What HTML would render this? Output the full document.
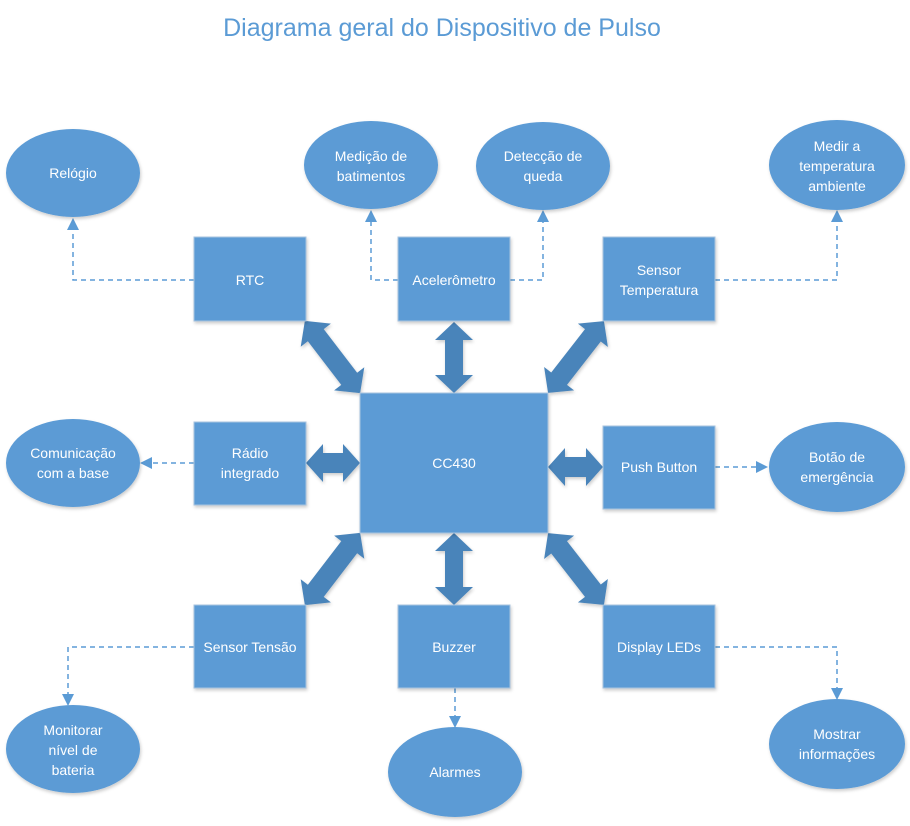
<!DOCTYPE html>
<html><head><meta charset="utf-8"><style>
html,body{margin:0;padding:0;background:#fff;}
svg{display:block;font-family:"Liberation Sans",sans-serif;}
.b{fill:#5B9BD5;stroke:#a9c4e0;stroke-width:1}
.e{fill:#5B9BD5;}
.t{fill:#fff;font-size:14px;text-anchor:middle;}
.a{fill:#4A84BA;}
.d{fill:none;stroke:#5B9BD5;stroke-width:1.5;stroke-dasharray:5,4;}
.h{fill:#5B9BD5;}
</style></head><body>
<svg width="910" height="826" viewBox="0 0 910 826">
<defs>
<filter id="s" x="-10%" y="-10%" width="130%" height="130%"><feDropShadow dx="1" dy="2" stdDeviation="1.5" flood-color="#000" flood-opacity="0.2"/></filter>
</defs>
<text x="442" y="36" fill="#5B9BD5" font-size="25" text-anchor="middle">Diagrama geral do Dispositivo de Pulso</text>

<!-- dashed connectors -->
<path class="d" d="M194,280 H73 V230"/><polygon class="h" points="73,218 67,230 79,230"/>
<path class="d" d="M398,280 H371 V222"/><polygon class="h" points="371,210 365,222 377,222"/>
<path class="d" d="M510,280 H543 V222"/><polygon class="h" points="543,210 537,222 549,222"/>
<path class="d" d="M715,280 H837 V222"/><polygon class="h" points="837,210 831,222 843,222"/>
<path class="d" d="M194,463 H152"/><polygon class="h" points="140,463 152,457 152,469"/>
<path class="d" d="M715,467 H756"/><polygon class="h" points="768,467 756,461 756,473"/>
<path class="d" d="M194,647 H68 V694"/><polygon class="h" points="68,706 62,694 74,694"/>
<path class="d" d="M455,688 V716"/><polygon class="h" points="455,728 449,716 461,716"/>
<path class="d" d="M715,647 H837 V688"/><polygon class="h" points="837,700 831,688 843,688"/>

<!-- double arrows -->
<g filter="url(#s)">
<polygon class="a" transform="translate(332.5,357) rotate(52.6)" points="-45.5,0 -27.5,-19 -27.5,-10 27.5,-10 27.5,-19 45.5,0 27.5,19 27.5,10 -27.5,10 -27.5,19"/>
<polygon class="a" transform="translate(576,357) rotate(127.9)" points="-45.5,0 -27.5,-19 -27.5,-10 27.5,-10 27.5,-19 45.5,0 27.5,19 27.5,10 -27.5,10 -27.5,19"/>
<polygon class="a" transform="translate(332.5,569) rotate(127.4)" points="-45.5,0 -27.5,-19 -27.5,-10 27.5,-10 27.5,-19 45.5,0 27.5,19 27.5,10 -27.5,10 -27.5,19"/>
<polygon class="a" transform="translate(576,569) rotate(52.1)" points="-45.5,0 -27.5,-19 -27.5,-10 27.5,-10 27.5,-19 45.5,0 27.5,19 27.5,10 -27.5,10 -27.5,19"/>
<polygon class="a" transform="translate(454,357.5) rotate(90)" points="-35.5,0 -17.5,-19 -17.5,-9 17.5,-9 17.5,-19 35.5,0 17.5,19 17.5,9 -17.5,9 -17.5,19"/>
<polygon class="a" transform="translate(454,569) rotate(90)" points="-36,0 -18,-19 -18,-9 18,-9 18,-19 36,0 18,19 18,9 -18,9 -18,19"/>
<polygon class="a" transform="translate(333,463)" points="-27,0 -10,-19 -10,-10 10,-10 10,-19 27,0 10,19 10,10 -10,10 -10,19"/>
<polygon class="a" transform="translate(575.5,467)" points="-27.5,0 -10.5,-19 -10.5,-10 10.5,-10 10.5,-19 27.5,0 10.5,19 10.5,10 -10.5,10 -10.5,19"/>
</g>

<!-- boxes -->
<g filter="url(#s)">
<rect class="b" x="194" y="237" width="112" height="84"/>
<rect class="b" x="398" y="237" width="112" height="84"/>
<rect class="b" x="603" y="237" width="112" height="84"/>
<rect class="b" x="194" y="422" width="112" height="83"/>
<rect class="b" x="360" y="393" width="188" height="140"/>
<rect class="b" x="603" y="426" width="112" height="83"/>
<rect class="b" x="194" y="605" width="112" height="83"/>
<rect class="b" x="398" y="605" width="112" height="83"/>
<rect class="b" x="603" y="605" width="112" height="83"/>
</g>
<text class="t" x="250" y="285">RTC</text>
<text class="t" x="454" y="285">Acelerômetro</text>
<text class="t" x="659" y="275">Sensor</text>
<text class="t" x="659" y="295">Temperatura</text>
<text class="t" x="250" y="458">Rádio</text>
<text class="t" x="250" y="478">integrado</text>
<text class="t" x="454" y="468">CC430</text>
<text class="t" x="659" y="472">Push Button</text>
<text class="t" x="250" y="652">Sensor Tensão</text>
<text class="t" x="454" y="652">Buzzer</text>
<text class="t" x="659" y="652">Display LEDs</text>

<!-- ellipses -->
<g filter="url(#s)">
<ellipse class="e" cx="73" cy="173" rx="67" ry="44"/>
<ellipse class="e" cx="371" cy="165" rx="67" ry="44"/>
<ellipse class="e" cx="543" cy="166" rx="67" ry="44"/>
<ellipse class="e" cx="837" cy="165" rx="68" ry="45"/>
<ellipse class="e" cx="73" cy="463" rx="67" ry="44"/>
<ellipse class="e" cx="837" cy="467" rx="68" ry="45"/>
<ellipse class="e" cx="73" cy="749" rx="67" ry="44"/>
<ellipse class="e" cx="455" cy="772" rx="67" ry="45"/>
<ellipse class="e" cx="837" cy="744" rx="68" ry="45"/>
</g>
<text class="t" x="73" y="178">Relógio</text>
<text class="t" x="371" y="161">Medição de</text>
<text class="t" x="371" y="181">batimentos</text>
<text class="t" x="543" y="161">Detecção de</text>
<text class="t" x="543" y="181">queda</text>
<text class="t" x="837" y="151">Medir a</text>
<text class="t" x="837" y="171">temperatura</text>
<text class="t" x="837" y="191">ambiente</text>
<text class="t" x="73" y="458">Comunicação</text>
<text class="t" x="73" y="478">com a base</text>
<text class="t" x="837" y="462">Botão de</text>
<text class="t" x="837" y="482">emergência</text>
<text class="t" x="73" y="735">Monitorar</text>
<text class="t" x="73" y="755">nível de</text>
<text class="t" x="73" y="775">bateria</text>
<text class="t" x="455" y="777">Alarmes</text>
<text class="t" x="837" y="739">Mostrar</text>
<text class="t" x="837" y="759">informações</text>
</svg>
</body></html>
